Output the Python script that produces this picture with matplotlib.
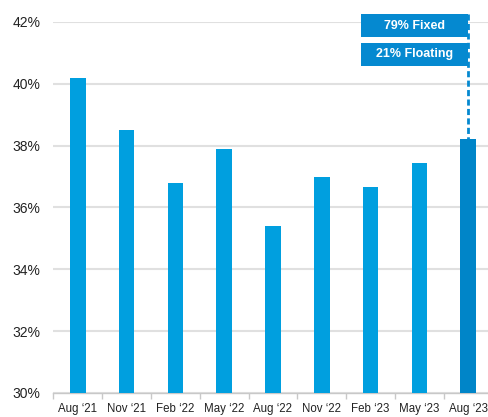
import matplotlib.pyplot as plt
from matplotlib.patches import Rectangle

plt.rcParams['font.family'] = ['Liberation Sans', 'DejaVu Sans']

quarters = ['Aug \u201821', 'Nov \u201821', 'Feb \u201822', 'May \u201822', 'Aug \u201822',
            'Nov \u201822', 'Feb \u201823', 'May \u201823', 'Aug \u201823']
ratio = [40.2, 38.52, 36.8, 37.88, 35.39, 36.97, 36.67, 37.45, 38.23]
yticks = [30, 32, 34, 36, 38, 40, 42]
box_labels = ['79% Fixed', '21% Floating']

bar_blue = '#009FDF'
last_blue = '#0085C8'
box_blue = '#0589D0'

fig = plt.figure(figsize=(4.88, 4.17), dpi=100)
ax = fig.add_axes([0.1096, 0.0576, 0.8996, 0.8897])

x = list(range(len(quarters)))
colors = [bar_blue] * (len(quarters) - 1) + [last_blue]
ax.bar(x, ratio, width=0.32, color=colors, zorder=3)

ax.set_ylim(30, 42)
ax.set_xlim(-0.5, len(quarters) - 0.5)
ax.set_yticks(yticks)
ax.set_yticklabels([f'{t}%' for t in yticks], fontsize=10, color='#222222')
ax.tick_params(axis='y', length=0, pad=9.5)
ax.grid(axis='y', color='#E0E0E0', linewidth=1.5, zorder=0)

# category labels centred, tick marks between categories
ax.set_xticks(x)
ax.set_xticklabels(quarters, fontsize=8.3, color='#222222')
ax.tick_params(axis='x', which='major', length=0, pad=7)
ax.set_xticks([i - 0.5 for i in range(len(quarters) + 1)], minor=True)
ax.tick_params(axis='x', which='minor', length=4, color='#C8C8C8', width=1)

for s in ['top', 'right', 'left']:
    ax.spines[s].set_visible(False)
ax.spines['bottom'].set_color('#C8C8C8')
ax.spines['bottom'].set_linewidth(1)

# fixed / floating call-out for the latest quarter
last = x[-1]
box_w = 2.19
box_tops = [42.25, 41.33]
box_h = 0.75
for lab, top in zip(box_labels, box_tops):
    ax.add_patch(Rectangle((last - box_w, top - box_h), box_w, box_h,
                           facecolor=box_blue, edgecolor='none',
                           clip_on=False, zorder=4))
    ax.text(last - box_w / 2, top - box_h / 2, lab, color='white',
            fontsize=9, fontweight='bold', ha='center', va='center',
            zorder=5, clip_on=False)
ax.plot([last, last], [box_tops[0], ratio[-1]], color=box_blue,
        linewidth=2, linestyle=(0, (2.2, 1.2)), zorder=6, clip_on=False)

fig.savefig('out.png', dpi=100)
